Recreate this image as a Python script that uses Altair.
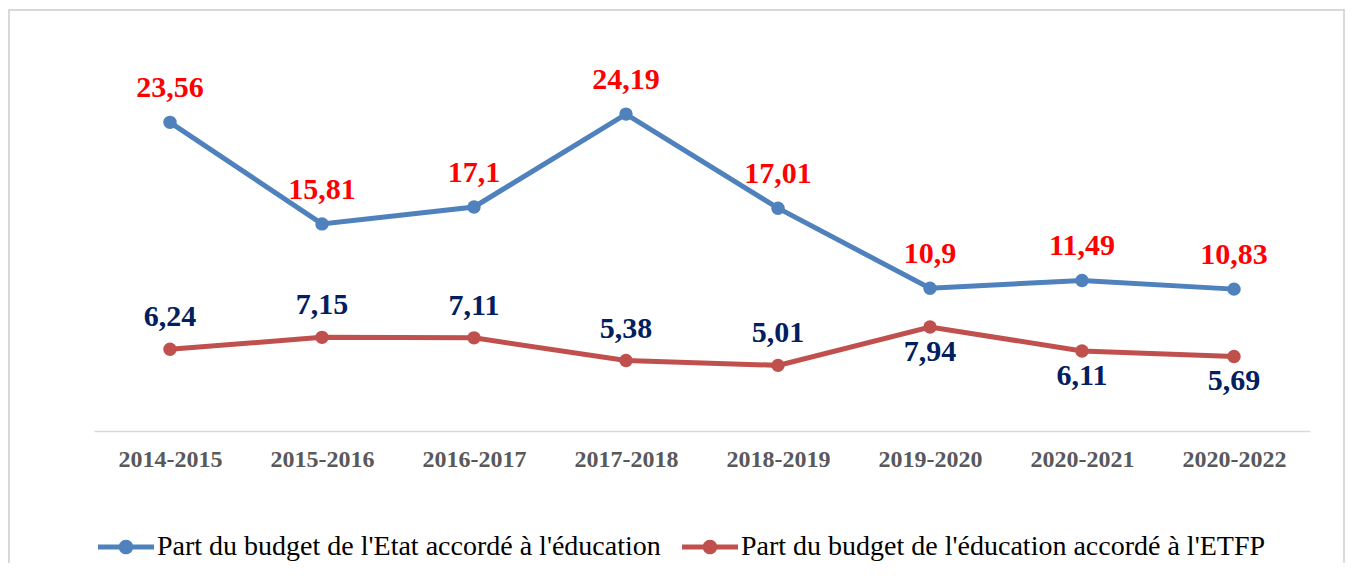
import altair as alt
import pandas as pd

years = ["2014-2015", "2015-2016", "2016-2017", "2017-2018",
         "2018-2019", "2019-2020", "2020-2021", "2020-2022"]
etat_educ = [23.56, 15.81, 17.1, 24.19, 17.01, 10.9, 11.49, 10.83]
educ_etfp = [6.24, 7.15, 7.11, 5.38, 5.01, 7.94, 6.11, 5.69]
series = ["Part du budget de l'Etat accordé à l'éducation",
          "Part du budget de l'éducation accordé à l'ETFP"]
colors = ["#4f81bd", "#c0504d"]

df = pd.DataFrame({
    "annee": years * 2,
    "serie": [series[0]] * len(years) + [series[1]] * len(years),
    "valeur": etat_educ + educ_etfp,
})

FONT = "Liberation Serif"
W, H = 1216, 393

color_scale = alt.Scale(domain=series, range=colors)
x_enc = alt.X("annee:O", sort=years, scale=alt.Scale(type="point", padding=0.5),
              axis=alt.Axis(title=None, labelAngle=0, ticks=False,
                            domainColor="#d9d9d9", domainWidth=1.5,
                            labelFont=FONT, labelFontWeight="bold", labelFontSize=24,
                            labelColor="#595959", labelPadding=16))
y_enc = alt.Y("valeur:Q", scale=alt.Scale(domain=[0, 30]), axis=None)

base = alt.Chart(df).encode(x=x_enc, y=y_enc)

sym_path = ("M-4,-0.34H4V0.34H-4Z "
            "M-1.05,0A1.05,1.05 0 1,1 1.05,0A1.05,1.05 0 1,1 -1.05,0Z")

legend_opts = dict(
    orient="none", legendX=18, legendY=495, direction="horizontal", title=None, columns=2,
    symbolType=sym_path, symbolSize=196, symbolStrokeWidth=0, symbolOpacity=1,
    labelFont=FONT, labelFontSize=28, labelColor="black", labelOffset=17,
    labelLimit=2000, columnPadding=21, padding=0,
)

border = alt.Chart(alt.Data(values=[{"b": 1}])).mark_rect(
    fillOpacity=0, stroke="#d9d9d9", strokeWidth=2
).encode(x=alt.value(-85), x2=alt.value(1250), y=alt.value(-28), y2=alt.value(700))

lines = base.mark_line(strokeWidth=5).encode(
    color=alt.Color("serie:N", scale=color_scale, legend=alt.Legend(**legend_opts)))
points = base.mark_circle(size=180, opacity=1).encode(
    color=alt.Color("serie:N", scale=color_scale, legend=alt.Legend(**legend_opts)))

lbl = base.transform_calculate(lbl="replace(toString(datum.valeur), '.', ',')")

lab_etat = lbl.transform_filter(
    alt.FieldEqualPredicate(field="serie", equal=series[0])
).mark_text(dy=-34, font=FONT, fontWeight="bold", fontSize=30, color="#ff0000",
            baseline="middle").encode(text="lbl:N")

lab_etfp_up = lbl.transform_filter(
    alt.FieldEqualPredicate(field="serie", equal=series[1])
).transform_filter(
    alt.FieldOneOfPredicate(field="annee", oneOf=years[:5])
).mark_text(dy=-32, font=FONT, fontWeight="bold", fontSize=30, color="#002060",
            baseline="middle").encode(text="lbl:N")

lab_etfp_down = lbl.transform_filter(
    alt.FieldEqualPredicate(field="serie", equal=series[1])
).transform_filter(
    alt.FieldOneOfPredicate(field="annee", oneOf=years[5:])
).mark_text(dy=25, font=FONT, fontWeight="bold", fontSize=30, color="#002060",
            baseline="middle").encode(text="lbl:N")

chart = alt.layer(border, lines, points, lab_etat, lab_etfp_up, lab_etfp_down).properties(
    width=W, height=H,
    padding={"left": 86, "top": 30, "right": 37, "bottom": 132},
    autosize=alt.AutoSizeParams(type="none"),
    background="white",
).configure(font=FONT).configure_view(stroke="transparent").configure_legend(
    labelFont=FONT, labelFontSize=28, labelColor="black",
)

chart.save("out.html", embed_options={"renderer": "svg", "actions": False})
